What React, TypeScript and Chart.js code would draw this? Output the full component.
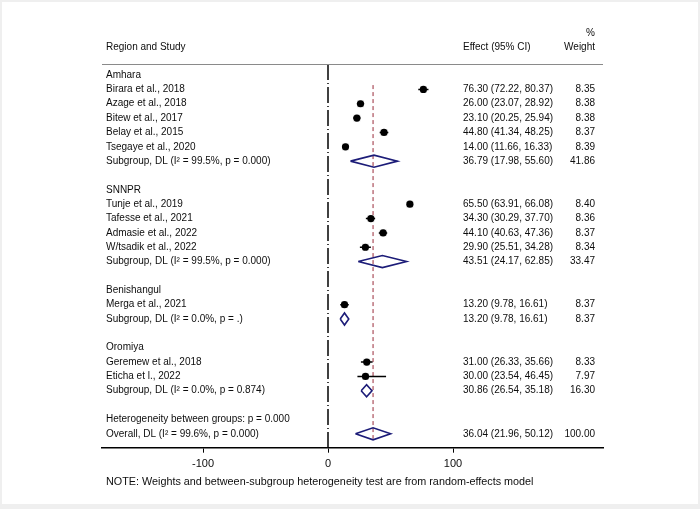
import { useEffect, useRef } from "react";
import { Chart, registerables } from "chart.js";
Chart.register(...registerables);

const rowLabels = [
  "Amhara",
  "Birara et al., 2018",
  "Azage et al., 2018",
  "Bitew et al., 2017",
  "Belay et al., 2015",
  "Tsegaye et al., 2020",
  "Subgroup, DL (I² = 99.5%, p = 0.000)",
  "",
  "SNNPR",
  "Tunje et al., 2019",
  "Tafesse et al., 2021",
  "Admasie et al., 2022",
  "W/tsadik et al., 2022",
  "Subgroup, DL (I² = 99.5%, p = 0.000)",
  "",
  "Benishangul",
  "Merga et al., 2021",
  "Subgroup, DL (I² = 0.0%, p = .)",
  "",
  "Oromiya",
  "Geremew et al., 2018",
  "Eticha et l., 2022",
  "Subgroup, DL (I² = 0.0%, p = 0.874)",
  "",
  "Heterogeneity between groups: p = 0.000",
  "Overall, DL (I² = 99.6%, p = 0.000)",
];

const rowKinds = [
  "group", "study", "study", "study", "study", "study", "subgroup", "blank",
  "group", "study", "study", "study", "study", "subgroup", "blank",
  "group", "study", "subgroup", "blank",
  "group", "study", "study", "subgroup", "blank",
  "het", "overall",
];

const estimates: (number | null)[] = [
  null, 76.3, 26.0, 23.1, 44.8, 14.0, 36.79, null,
  null, 65.5, 34.3, 44.1, 29.9, 43.51, null,
  null, 13.2, 13.2, null,
  null, 31.0, 30.0, 30.86, null,
  null, 36.04,
];

const lowerCI: (number | null)[] = [
  null, 72.22, 23.07, 20.25, 41.34, 11.66, 17.98, null,
  null, 63.91, 30.29, 40.63, 25.51, 24.17, null,
  null, 9.78, 9.78, null,
  null, 26.33, 23.54, 26.54, null,
  null, 21.96,
];

const upperCI: (number | null)[] = [
  null, 80.37, 28.92, 25.94, 48.25, 16.33, 55.6, null,
  null, 66.08, 37.7, 47.36, 34.28, 62.85, null,
  null, 16.61, 16.61, null,
  null, 35.66, 46.45, 35.18, null,
  null, 50.12,
];

const weights: (number | null)[] = [
  null, 8.35, 8.38, 8.38, 8.37, 8.39, 41.86, null,
  null, 8.4, 8.36, 8.37, 8.34, 33.47, null,
  null, 8.37, 8.37, null,
  null, 8.33, 7.97, 16.3, null,
  null, 100.0,
];

const xTicks = [-100, 0, 100];
const overallEstimate = 36.04;
const headerStudy = "Region and Study";
const headerEffect = "Effect (95% CI)";
const headerPct = "%";
const headerWeight = "Weight";
const noteText =
  "NOTE: Weights and between-subgroup heterogeneity test are from random-effects model";

export default function App() {
  const ref = useRef<HTMLCanvasElement>(null);

  useEffect(() => {
    document.body.style.margin = "0";
    const FONT = "Arial, 'Liberation Sans', Helvetica, sans-serif";
    const canvas = ref.current;
    if (!canvas) return;

    const yMin = -0.77;
    const yMax = 25.97;
    const studyIdx = rowKinds.map((k, i) => (k === "study" ? i : -1)).filter((i) => i >= 0);
    const poolIdx = rowKinds
      .map((k, i) => (k === "subgroup" || k === "overall" ? i : -1))
      .filter((i) => i >= 0);

    const datasets: any[] = [];
    // null line at zero
    datasets.push({
      type: "line",
      data: [
        { x: 0, y: yMin },
        { x: 0, y: yMax },
      ],
      borderColor: "#000",
      borderWidth: 1.5,
      borderDash: [16, 3, 1, 3],
      pointRadius: 0,
      order: 10,
    });
    // overall estimate line
    datasets.push({
      type: "line",
      data: [
        { x: overallEstimate, y: 0.7 },
        { x: overallEstimate, y: 25.35 },
      ],
      borderColor: "#9a2a3a",
      borderWidth: 1,
      borderDash: [4, 3],
      pointRadius: 0,
      order: 9,
    });
    // weight boxes
    datasets.push({
      type: "scatter",
      data: studyIdx.map((i) => ({ x: estimates[i], y: i })),
      pointStyle: "rect",
      pointRadius: studyIdx.map((i) => 4.8 * Math.sqrt((weights[i] as number) / 8.4)),
      backgroundColor: "#d4d4d4",
      borderWidth: 0,
      order: 8,
    });
    // confidence intervals
    studyIdx.forEach((i) =>
      datasets.push({
        type: "line",
        data: [
          { x: lowerCI[i], y: i },
          { x: upperCI[i], y: i },
        ],
        borderColor: "#000",
        borderWidth: 1.5,
        pointRadius: 0,
        order: 7,
      })
    );
    // point estimates
    datasets.push({
      type: "scatter",
      data: studyIdx.map((i) => ({ x: estimates[i], y: i })),
      pointStyle: "circle",
      pointRadius: 3.6,
      backgroundColor: "#000",
      borderWidth: 0,
      order: 6,
    });
    // pooled diamonds
    poolIdx.forEach((i) =>
      datasets.push({
        type: "line",
        data: [
          { x: lowerCI[i], y: i },
          { x: estimates[i], y: i - 0.42 },
          { x: upperCI[i], y: i },
          { x: estimates[i], y: i + 0.42 },
          { x: lowerCI[i], y: i },
        ],
        borderColor: "#1c1c78",
        borderWidth: 1.6,
        borderJoinStyle: "miter",
        pointRadius: 0,
        fill: false,
        tension: 0,
        order: 5,
      })
    );

    const framePlugin = {
      id: "frame",
      beforeDraw(chart: any) {
        const { ctx, width, height } = chart;
        ctx.save();
        ctx.fillStyle = "#ffffff";
        ctx.fillRect(0, 0, width, height);
        ctx.fillStyle = "#efefef";
        ctx.fillRect(0, 0, width, 2);
        ctx.fillRect(0, 0, 2, height);
        ctx.fillRect(width - 2, 0, 2, height);
        ctx.fillRect(0, height - 5, width, 5);
        ctx.restore();
      },
    };

    const textPlugin = {
      id: "forestText",
      afterDraw(chart: any) {
        const { ctx, chartArea } = chart;
        const yS = chart.scales.y;
        const xLabel = 106;
        const xEffect = 463;
        const xWeight = 595;
        ctx.save();
        // header rule
        ctx.strokeStyle = "#8a8a8a";
        ctx.lineWidth = 1;
        ctx.beginPath();
        ctx.moveTo(chartArea.left, chartArea.top + 0.5);
        ctx.lineTo(chartArea.right, chartArea.top + 0.5);
        ctx.stroke();

        ctx.fillStyle = "#0d0d0d";
        ctx.textBaseline = "middle";
        ctx.font = `10px ${FONT}`;
        ctx.textAlign = "left";
        ctx.fillText(headerStudy, xLabel, yS.getPixelForValue(-1.95));
        ctx.fillText(headerEffect, xEffect, yS.getPixelForValue(-1.95));
        ctx.textAlign = "right";
        ctx.fillText(headerPct, xWeight, yS.getPixelForValue(-2.93));
        ctx.fillText(headerWeight, xWeight, yS.getPixelForValue(-1.95));

        rowLabels.forEach((lab, i) => {
          const y = yS.getPixelForValue(i);
          ctx.textAlign = "left";
          if (lab) ctx.fillText(lab, xLabel, y);
          const e = estimates[i];
          if (e !== null) {
            const s = `${e.toFixed(2)} (${(lowerCI[i] as number).toFixed(2)}, ${(upperCI[i] as number).toFixed(2)})`;
            ctx.fillText(s, xEffect, y);
            ctx.textAlign = "right";
            ctx.fillText((weights[i] as number).toFixed(2), xWeight, y);
          }
        });

        ctx.textAlign = "left";
        ctx.font = `10.8px ${FONT}`;
        ctx.fillText(noteText, xLabel, 482);
        ctx.restore();
      },
    };

    const chart = new Chart(canvas, {
      type: "scatter",
      data: { datasets },
      options: {
        animation: false,
        responsive: true,
        maintainAspectRatio: false,
        events: [],
        layout: { padding: { left: 102, right: 97, top: 64, bottom: 31.3 } },
        plugins: { legend: { display: false }, tooltip: { enabled: false } },
        scales: {
          x: {
            type: "linear",
            min: -180.8,
            max: 220,
            afterBuildTicks: (s: any) => {
              s.ticks = xTicks.map((v) => ({ value: v }));
            },
            afterFit: (s: any) => {
              s.height = 30;
            },
            ticks: {
              font: { size: 11, family: FONT },
              color: "#0d0d0d",
              padding: 5,
              maxRotation: 0,
              autoSkip: false,
              callback: (v: any) => String(v),
            },
            grid: {
              drawOnChartArea: false,
              drawTicks: true,
              tickLength: 5,
              color: "#000",
              lineWidth: 1,
            },
            border: { display: true, color: "#000", width: 1.5 },
          },
          y: {
            type: "linear",
            display: false,
            min: yMin,
            max: yMax,
            reverse: true,
          },
        },
      } as any,
      plugins: [framePlugin, textPlugin],
    });
    return () => chart.destroy();
  }, []);

  return (
    <div style={{ width: 700, height: 509, position: "relative" }}>
      <canvas ref={ref} />
    </div>
  );
}
